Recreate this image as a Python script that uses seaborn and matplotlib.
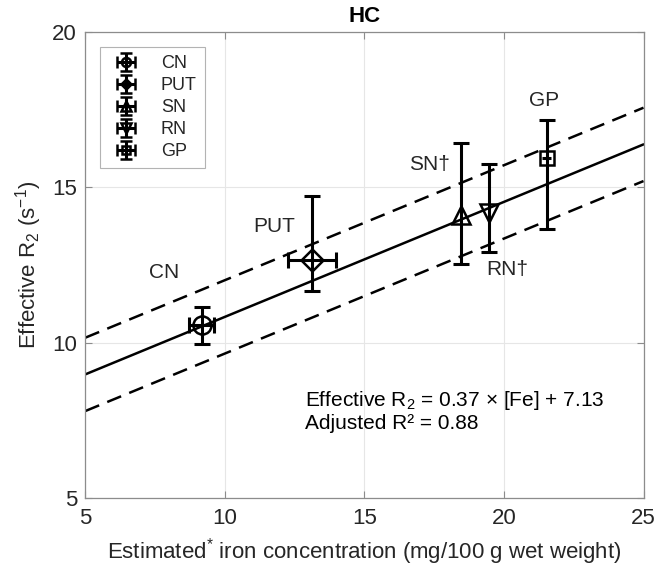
import numpy as np
import pandas as pd
import matplotlib
matplotlib.use("Agg")
import matplotlib.pyplot as plt
import seaborn as sns

# Regional measurements: estimated iron vs effective R2
regions = ["CN", "PUT", "SN", "RN", "GP"]
iron = [9.19, 13.11, 18.46, 19.47, 21.53]
iron_lo = [8.72, 12.25, 18.46, 19.47, 21.38]
iron_hi = [9.61, 13.97, 18.46, 19.47, 21.68]
r2 = [10.57, 12.66, 14.12, 14.18, 15.93]
r2_lo = [9.95, 11.66, 12.53, 12.93, 13.65]
r2_hi = [11.14, 14.72, 16.44, 15.74, 17.15]
markers = ["o", "D", "^", "v", "s"]
marker_sizes = [13, 11, 13, 13, 10.5]

# Point labels (dagger marks regions flagged in the study)
label_text = ["CN", "PUT", "SN\u2020", "RN\u2020", "GP"]
label_x = [7.3, 11.0, 16.6, 19.35, 20.9]
label_y = [12.25, 13.75, 15.72, 12.36, 17.8]

# Linear fit and band half-width
slope = 0.37
intercept = 7.13
band = 1.18
adj_r2 = 0.88

sns.set_style("whitegrid")
plt.rcParams["font.family"] = ["Liberation Sans", "DejaVu Sans"]
plt.rcParams["mathtext.fontset"] = "custom"
plt.rcParams["mathtext.rm"] = "Liberation Sans"
plt.rcParams["mathtext.it"] = "Liberation Sans:italic"

fig = plt.figure(figsize=(6.56, 5.66), dpi=100)
ax = fig.add_axes([0.130, 0.120, 0.851, 0.8237])

text_col = "#262626"

# Fit line and dashed band
xs = np.linspace(5, 25, 200)
fit = pd.DataFrame({
    "x": np.concatenate([xs, xs, xs]),
    "y": np.concatenate([slope * xs + intercept,
                         slope * xs + intercept + band,
                         slope * xs + intercept - band]),
    "kind": ["fit"] * len(xs) + ["upper"] * len(xs) + ["lower"] * len(xs),
})
sns.lineplot(data=fit[fit.kind == "fit"], x="x", y="y", color="black",
             lw=1.8, ax=ax, legend=False)
for k in ["upper", "lower"]:
    sns.lineplot(data=fit[fit.kind == k], x="x", y="y", color="black",
                 lw=1.8, ax=ax, legend=False, linestyle=(0, (6, 3.5)))

bar_kw = dict(ecolor="black", elinewidth=2.2, capthick=2.2, zorder=5)

# Error bars per region
handles = []
for i, name in enumerate(regions):
    xw = iron_hi[i] - iron_lo[i]
    yerr = [[r2[i] - r2_lo[i]], [r2_hi[i] - r2[i]]]
    xerr = [[iron[i] - iron_lo[i]], [iron_hi[i] - iron[i]]]
    ax.errorbar([iron[i]], [r2[i]], yerr=yerr, fmt="none", capsize=5.5,
                **bar_kw)
    if xw > 0:
        ax.errorbar([iron[i]], [r2[i]], xerr=xerr, fmt="none",
                    capsize=5.5 if xw > 0.4 else 0, **bar_kw)
    ax.plot([iron[i]], [r2[i]], marker=markers[i], ms=marker_sizes[i],
            mfc="none", mec="black", mew=1.8, ls="none", zorder=6)
    # legend entry drawn as an errorbar glyph
    h = ax.errorbar([np.nan], [np.nan], xerr=[1], yerr=[1],
                    fmt=markers[i], ms=marker_sizes[i], mfc="none",
                    mec="black", mew=1.8, capsize=4, label=name, **bar_kw)
    handles.append(h)

for t, x, y in zip(label_text, label_x, label_y):
    ax.text(x, y, t, fontsize=15, color=text_col, ha="left", va="center")

ax.text(12.87, 8.14,
        "Effective R$_2$ = %.2f \u00d7 [Fe] + %.2f" % (slope, intercept),
        fontsize=15, color="black", ha="left", va="center")
ax.text(12.87, 7.39, "Adjusted R\u00b2 = %.2f" % adj_r2,
        fontsize=15, color="black", ha="left", va="center")

ax.set_xlim(5, 25)
ax.set_ylim(5, 20)
ax.set_xticks([5, 10, 15, 20, 25])
ax.set_yticks([5, 10, 15, 20])
ax.grid(True, color="#e6e6e6", lw=0.8)
for s in ax.spines.values():
    s.set_visible(True)
    s.set_color("#8c8c8c")
    s.set_linewidth(0.9)
ax.tick_params(axis="both", direction="in", length=5, width=0.8,
               color="#8c8c8c", labelsize=16, labelcolor=text_col,
               top=True, right=True, bottom=True, left=True)
ax.tick_params(axis="x", pad=7)
ax.tick_params(axis="y", pad=6)

ax.set_xlabel("Estimated$^{*}$ iron concentration (mg/100 g wet weight)",
              fontsize=16, color=text_col, labelpad=5)
ax.set_ylabel("Effective R$_2$ (s$^{-1}$)", fontsize=16, color=text_col,
              labelpad=6)
ax.set_title("HC", fontsize=16, fontweight="bold", color="black", pad=7)

leg = ax.legend(handles=handles, labels=regions, loc="upper left",
                bbox_to_anchor=(0.027, 0.968), fontsize=13,
                frameon=True, fancybox=False, edgecolor="#a0a0a0",
                handlelength=1.9, handletextpad=1.0, labelspacing=0.28,
                borderpad=0.45, borderaxespad=0.0, markerscale=0.5)
leg.get_frame().set_linewidth(0.8)

fig.savefig("out.png", dpi=100)
